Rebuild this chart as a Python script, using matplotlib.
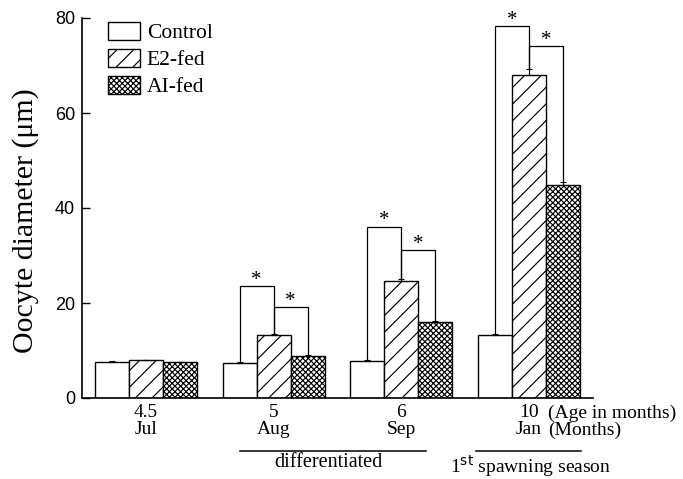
import matplotlib
matplotlib.use("Agg")
import matplotlib.pyplot as plt
from matplotlib.patches import Patch
from matplotlib.transforms import blended_transform_factory
import numpy as np

# Data
ages = ["4.5", "5", "6", "10"]
months = ["Jul", "Aug", "Sep", "Jan"]
series = ["Control", "E2-fed", "AI-fed"]
control = [7.6, 7.4, 7.8, 13.2]
e2_fed = [7.9, 13.3, 24.7, 68.0]
ai_fed = [7.5, 8.8, 15.9, 44.8]
control_err = [0.15, 0.15, 0.15, 0.25]
e2_err = [0.2, 0.2, 0.3, 1.2]
ai_err = [0.15, 0.2, 0.25, 0.7]
# significance brackets: (group, bar_a, bar_b, bracket height)
brackets = [(1, 0, 1, 23.6), (1, 1, 2, 19.2),
            (2, 0, 1, 36.1), (2, 1, 2, 31.2),
            (3, 0, 1, 78.3), (3, 1, 2, 74.1)]

serif = "Liberation Serif"
sans = "Liberation Sans"

fig = plt.figure(figsize=(6.83, 4.79), dpi=100)
ax = fig.add_axes([82 / 683, 1 - 398 / 479, (593 - 82) / 683, 380 / 479])

x = np.arange(len(ages))
w = 34 / 128
vals = [control, e2_fed, ai_fed]
errs = [control_err, e2_err, ai_err]
hatches = ["", "//", "xxxxxx"]
plt.rcParams["hatch.linewidth"] = 0.85
offsets = [-w, 0, w]
for v, e, h, off, name in zip(vals, errs, hatches, offsets, series):
    ax.bar(x + off, v, width=w, color="white", edgecolor="black",
           linewidth=1.0, hatch=h, label=name, zorder=2)
    ax.errorbar(x + off, v, yerr=[np.zeros(len(e)), e], fmt="none",
                ecolor="black", elinewidth=0.8, capsize=2.5, capthick=0.8,
                zorder=3)

# significance brackets with stars
for g, a, b, hgt in brackets:
    xa, xb = g + offsets[a], g + offsets[b]
    ya = vals[a][g] + errs[a][g]
    yb = vals[b][g] + errs[b][g]
    ax.plot([xa, xa, xb, xb], [ya, hgt, hgt, yb], color="black",
            linewidth=0.9, zorder=4, solid_joinstyle="miter")
    ax.text((xa + xb) / 2, hgt - 0.8, "*", ha="center", va="bottom",
            fontsize=15, family=serif)

ax.set_xlim(-0.5, 3.5)
ax.set_ylim(0, 80)
ax.set_yticks([0, 20, 40, 60, 80])
ax.tick_params(axis="y", direction="in", length=6, width=1.0,
               labelsize=13, pad=5)
for lab in ax.get_yticklabels():
    lab.set_family(sans)
ax.set_xticks(x)
ax.set_xticklabels([f"{a}\n{m}" for a, m in zip(ages, months)],
                   family=serif, fontsize=14, linespacing=1.0)
ax.tick_params(axis="x", length=0, pad=4)
for s in ["top", "right"]:
    ax.spines[s].set_visible(False)
for s in ["left", "bottom"]:
    ax.spines[s].set_linewidth(1.2)

ax.set_ylabel("Oocyte diameter (μm)", family=serif, fontsize=21.5)
ax.yaxis.set_label_coords(-0.085, 0.466)

# axis captions to the right of the last group
tr = blended_transform_factory(ax.transData, ax.transAxes)
ax.text(3.15, -0.017, "(Age in months)", transform=tr, ha="left", va="top",
        family=serif, fontsize=14, clip_on=False)
ax.text(3.15, -0.062, "(Months)", transform=tr, ha="left", va="top",
        family=serif, fontsize=14, clip_on=False)

# period lines below the axis
ax.plot([0.734, 2.195], [-0.139, -0.139], transform=tr, color="black",
        linewidth=1.1, clip_on=False)
ax.text(1.43, -0.145, "differentiated", transform=tr, ha="center", va="top",
        family=serif, fontsize=14.5, clip_on=False)
ax.plot([2.586, 3.406], [-0.139, -0.139], transform=tr, color="black",
        linewidth=1.1, clip_on=False)
ax.text(2.38, -0.145, r"1$^{\mathrm{st}}$ spawning season", transform=tr,
        ha="left", va="top", family=serif, fontsize=14, clip_on=False)

handles = [Patch(facecolor="white", edgecolor="black", hatch=h, linewidth=1.0)
           for h in hatches]
ax.legend(handles, series, loc="upper left", bbox_to_anchor=(0.034, 1.013),
          frameon=False, prop={"family": serif, "size": 15.5},
          handlelength=1.5, handleheight=0.95, labelspacing=0.25,
          handletextpad=0.3, borderaxespad=0.0)

fig.savefig("out.png", dpi=100)
